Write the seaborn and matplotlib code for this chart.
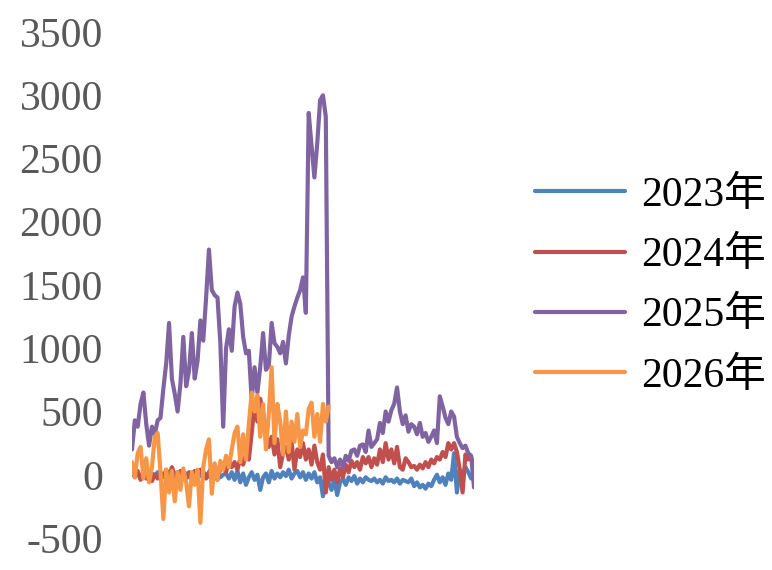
import pandas as pd
import seaborn as sns
import matplotlib.pyplot as plt

# series names and colours (Excel-style palette)
years = ['2023年', '2024年', '2025年', '2026年']
colors = ['#4F81BD', '#C0504D', '#8064A2', '#F79646']

# values, one point per step along the year
v2023 = [10, -10, 20, -20, 0, 15, -15, 10, -5, 20,
         -10, 0, 15, -20, 10, -5, 20, -15, 0, 10,
         -20, 15, -5, 10, -10, 20, 0, -15, 10, -10,
         20, -20, 0, 10, -30, 20, -40, 30, -60, 10,
         -80, -20, 20, -40, 0, -120, -20, 10, -60, 30,
         -30, 10, -20, 20, -10, 40, -30, 10, 30, -20,
         20, -40, 10, -30, 20, -60, -20, -170, 10, -60,
         -120, -40, -160, -60, -30, -80, -20, -50, -10, -70,
         -30, -60, -20, -40, -50, -30, -60, -40, -70, -20,
         -50, -40, -60, -30, -70, -40, -50, -60, -30, -90,
         -60, -100, -80, -110, -70, -90, -40, 0, -60, -20,
         -80, 10, -40, 170, -140, 40, -20, 60, 20, -30,
         40]

v2024 = [40, -20, 30, -40, 10, -30, 20, -50, 0, -30,
         20, -20, 40, -10, 60, 0, -40, 30, 10, -30,
         20, -10, 30, -20, 40, 10, -30, 20, 60, 0,
         -40, 50, 80, 20, 120, 60, 100, 40, 130, 80,
         160, 120, 330, 560, 420, 600, 480, 330, 220, 300,
         160, 280, 60, 170, 220, 120, 260, 40, 200, 140,
         250, 120, 200, 80, 230, 100, 40, 160, -140, 60,
         -40, 40, -60, 50, -20, 80, 20, 110, 60, 100,
         40, 140, 90, 140, 60, 130, 80, 200, 100, 250,
         120, 200, 90, 220, 60, 40, 130, 100, 60, 70,
         40, 80, 50, 100, 60, 120, 90, 140, 120, 180,
         140, 250, 200, 250, 180, 40, -140, 160, 120, 140,
         60]

v2025 = [200, 430, 380, 560, 650, 400, 230, 380, 320, 430,
         450, 680, 880, 1200, 760, 640, 500, 720, 1090, 700,
         820, 1120, 760, 900, 1220, 1060, 1400, 1780, 1460, 1420,
         1400, 1040, 380, 1000, 1150, 980, 1330, 1440, 1350, 1090,
         960, 980, 590, 850, 650, 850, 1120, 830, 860, 1200,
         1040, 1010, 960, 1050, 880, 1100, 1250, 1330, 1400, 1460,
         1560, 1280, 2860, 2600, 2350, 2620, 2960, 3000, 2830, 150,
         100, 130, 60, 120, 60, 150, 110, 190, 200, 150,
         230, 240, 180, 350, 220, 250, 280, 410, 330, 500,
         420, 510, 560, 690, 500, 400, 470, 340, 400, 380,
         320, 410, 300, 330, 260, 300, 350, 250, 620, 540,
         450, 400, 500, 460, 300, 250, 210, 230, 170, 150,
         -100]

v2026 = [100, -20, 170, 220, -30, 130, -60, 60, 300, 330,
         20, -350, 40, -140, 30, -210, 20, -120, 50, -60,
         -250, 20, -80, 40, -380, 60, 200, 280, -150, 90,
         -40, 110, 40, 150, 60, 200, 330, 380, 100, 320,
         120, 400, 650, 500, 630, 300, 560, 200, 480, 850,
         250, 560, 420, 160, 500, 180, 420, 260, 480, 220,
         350, 320, 520, 570, 300, 480, 260, 560, 420, 540]

frames = []
for name, vals in zip(years, [v2023, v2024, v2025, v2026]):
    frames.append(pd.DataFrame({'day': range(len(vals)), 'value': vals, 'year': name}))
df = pd.concat(frames, ignore_index=True)

sns.set_style('white')
plt.rcParams['font.family'] = ['Liberation Serif', 'Noto Sans CJK SC']
plt.rcParams['axes.unicode_minus'] = False

fig = plt.figure(figsize=(7.72, 5.70), dpi=100)
ax = fig.add_axes([132 / 772, 32 / 570, 342 / 772, 506 / 570])

sns.lineplot(data=df, x='day', y='value', hue='year', palette=colors,
             linewidth=3.0, estimator=None, ax=ax)

ax.set_xlim(0, len(v2025) - 1)
ax.set_ylim(-500, 3500)
ax.set_yticks(range(-500, 3501, 500))
ax.set_xticks([])
ax.set_xlabel('')
ax.set_ylabel('')
sns.despine(ax=ax, left=True, bottom=True)
ax.tick_params(axis='y', length=0, pad=21, labelsize=30, labelcolor='#595959')

handles, labels = ax.get_legend_handles_labels()
for h in handles:
    h.set_linewidth(3.0)
leg = ax.legend(handles, labels, loc='center left', bbox_to_anchor=(535 / 772, 284 / 570),
                bbox_transform=fig.transFigure, frameon=False, fontsize=30,
                handlelength=2.15, handletextpad=0.4, labelspacing=0.52,
                borderpad=0, borderaxespad=0)
for t in leg.get_texts():
    t.set_color('black')

fig.savefig('out.png', dpi=100)
